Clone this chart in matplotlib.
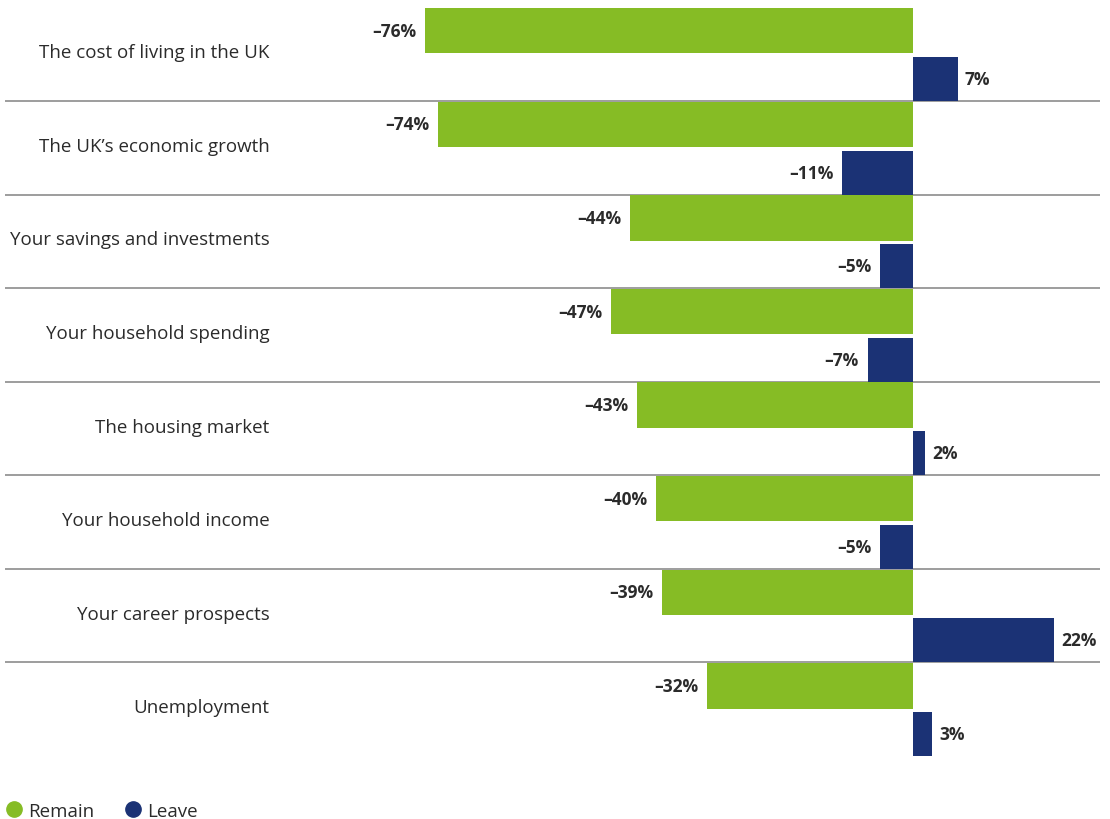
import matplotlib.pyplot as plt
from matplotlib.lines import Line2D

plt.rcParams["font.family"] = ["Open Sans", "DejaVu Sans"]

categories = [
    "The cost of living in the UK",
    "The UK\u2019s economic growth",
    "Your savings and investments",
    "Your household spending",
    "The housing market",
    "Your household income",
    "Your career prospects",
    "Unemployment",
]
remain = [-76, -74, -44, -47, -43, -40, -39, -32]
leave = [7, -11, -5, -7, 2, -5, 22, 3]

GREEN = "#86bc25"
NAVY = "#1b3275"
TEXT = "#2b2b2b"


def pct(v):
    return f"\u2013{abs(v)}%" if v < 0 else f"{v}%"


fig = plt.figure(figsize=(11.1, 8.2), dpi=100)
# axes spans the full width of the separator rules; zero sits at ~x=912px
ax = fig.add_axes([5 / 1110, 1 - 757 / 820, 1095 / 1110, (757 - 8.4) / 820])
ax.set_xlim(-141.4, 29.2)
ax.set_ylim(len(categories), 0)
ax.axis("off")

for i, (name, r, l) in enumerate(zip(categories, remain, leave)):
    ax.barh(i + 0.25, r, height=0.485, color=GREEN, zorder=2)
    ax.barh(i + 0.765, l, height=0.47, color=NAVY, zorder=2)

    for y, v in ((i + 0.25, r), (i + 0.765, l)):
        off = -1.35 if v < 0 else 1.1
        ax.text(v + off, y, pct(v), ha="right" if v < 0 else "left", va="center",
                fontsize=12.5, fontweight="bold", color=TEXT)

    ax.text(-100.2, i + 0.48, name, ha="right", va="center", fontsize=13.5, color=TEXT)

    if i > 0:
        ax.plot([-141.4, 29.2], [i, i], color="#8c8c8c", lw=1.2, zorder=1)

handles = [
    Line2D([], [], marker="o", ls="", color=GREEN, markersize=11, label="Remain"),
    Line2D([], [], marker="o", ls="", color=NAVY, markersize=11, label="Leave"),
]
fig.legend(handles=handles, loc="lower left", bbox_to_anchor=(-0.001, -0.008), ncol=2,
           frameon=False, fontsize=13.5, handletextpad=0.25, columnspacing=1.6,
           handlelength=1.0, borderpad=0.3, borderaxespad=0.0, labelcolor=TEXT)

fig.savefig("out.png", dpi=100)
